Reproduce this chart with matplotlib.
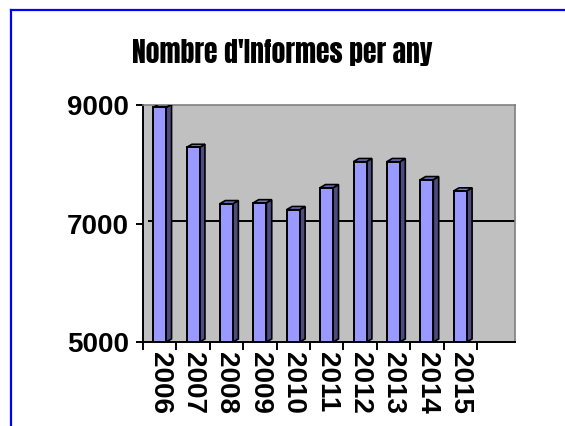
import matplotlib
matplotlib.use("Agg")
import matplotlib.pyplot as plt
from matplotlib.patches import Polygon
from matplotlib.lines import Line2D
import matplotlib.transforms as mtransforms

years = ["2006", "2007", "2008", "2009", "2010", "2011", "2012", "2013", "2014", "2015"]
informes = [8960, 8285, 7335, 7350, 7235, 7605, 8045, 8045, 7740, 7550]
y_ticks = [5000, 7000, 9000]
title = "Nombre d'Informes per any"

W, H = 565, 426
fig = plt.figure(figsize=(W / 100, H / 100), dpi=100)
fig.patch.set_facecolor("white")

# blue frame (left and top)
fig.add_artist(Line2D([11 / W, 11 / W], [0, 1 - 10 / H], color="#0000FF", lw=1.6))
fig.add_artist(Line2D([11 / W, 1], [1 - 10 / H, 1 - 10 / H], color="#0000FF", lw=1.6))

ax = fig.add_axes([143 / W, (H - 342) / H, (515 - 143) / W, (342 - 105) / H])
ax.set_facecolor("#C0C0C0")
ax.set_xlim(-0.5, 10.64)
ax.set_ylim(5000, 9000)

off = mtransforms.offset_copy(ax.transData, fig=fig, x=3, y=3, units="dots")
ax.plot([-0.4, 10.64], [7000, 7000], color="black", lw=1.4, transform=off, zorder=1)

bw = 0.39
dx, dy = 0.16, 52
xs = list(range(len(years)))
ax.bar(xs, [v - 5000 for v in informes], bottom=5000, width=bw, color="#9999FF",
       edgecolor="black", linewidth=1.4, zorder=3)
for x, v in zip(xs, informes):
    r = x + bw / 2
    l = x - bw / 2
    side = Polygon([(r, 5000), (r + dx, 5000 + dy), (r + dx, v + dy), (r, v)],
                   closed=True, facecolor="#4C4C80", edgecolor="black", lw=1.2, zorder=2.9)
    top = Polygon([(l, v), (l + dx, v + dy), (r + dx, v + dy), (r, v)],
                  closed=True, facecolor="#7878CC", edgecolor="black", lw=1.2, zorder=2.9)
    ax.add_patch(side)
    ax.add_patch(top)

for s in ["top", "right"]:
    ax.spines[s].set_color("#808080")
    ax.spines[s].set_linewidth(1.2)
for s in ["left", "bottom"]:
    ax.spines[s].set_color("black")
    ax.spines[s].set_linewidth(1.4)

ax.set_yticks(y_ticks)
ax.set_yticklabels([str(t) for t in y_ticks], fontsize=20, fontweight="bold",
                   family=["Liberation Sans", "DejaVu Sans"])
ax.tick_params(axis="y", direction="out", length=5, width=1.4, pad=5)

ax.set_xticks([i - 0.5 for i in range(len(years) + 1)])
ax.set_xticklabels([])
ax.set_xticks(xs, minor=True)
ax.set_xticklabels(years, minor=True, rotation=270, fontsize=20, fontweight="bold",
                   family=["Liberation Sans", "DejaVu Sans"])
ax.tick_params(axis="x", which="major", direction="out", length=6, width=1.4)
ax.tick_params(axis="x", which="minor", length=0, pad=7)

fig.text(282 / W, 1 - 53 / H, title, ha="center", va="center", fontsize=20,
         family=["Anton", "Oswald", "Fjalla One", "DejaVu Sans"])

fig.savefig("out.png", dpi=100)
